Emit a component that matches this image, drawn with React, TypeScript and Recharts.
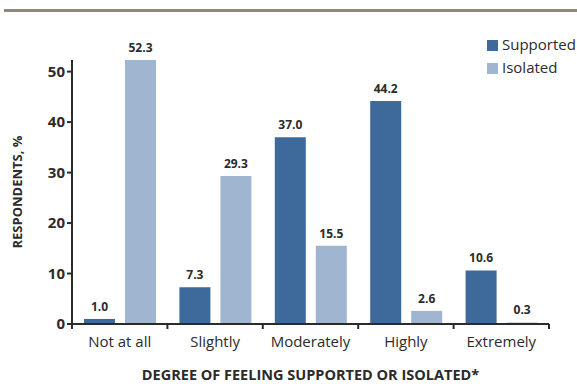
import { Bar, BarChart, LabelList, Legend, XAxis, YAxis } from "recharts";

const categories = ["Not at all", "Slightly", "Moderately", "Highly", "Extremely"];
const supported = [1.0, 7.3, 37.0, 44.2, 10.6];
const isolated = [52.3, 29.3, 15.5, 2.6, 0.3];
const yTicks = [0, 10, 20, 30, 40, 50];
const seriesOrder = ["Supported", "Isolated"];

const data = categories.map((name, i) => ({
  name,
  Supported: supported[i],
  Isolated: isolated[i],
}));

const FONT = "'Open Sans', sans-serif";
const INK = "#2b2b2b";
const DARK = "#3d6a9b";
const LIGHT = "#a0b6d0";

const CategoryTick = (props) => {
  const { x, y, payload, index, width } = props;
  const band = width / categories.length;
  const left = x - band / 2;
  const right = x + band / 2;
  return (
    <g>
      <line x1={left} y1={y - 8} x2={left} y2={y - 3} stroke={INK} strokeWidth={2} />
      {index === categories.length - 1 && (
        <line x1={right} y1={y - 8} x2={right} y2={y - 3} stroke={INK} strokeWidth={2} />
      )}
      <text x={x} y={y + 15} textAnchor="middle" fontSize={15} fill={INK} fontFamily={FONT}>
        {payload.value}
      </text>
    </g>
  );
};

const fmt = (v) => Number(v).toFixed(1);

export default function App() {
  return (
    <div style={{ position: "absolute", left: 0, top: 0, width: 577, height: 388, background: "#fff" }}>
      <div style={{ position: "absolute", left: 4, top: 9, width: 573, height: 3, background: "#8f887b" }} />
      <BarChart
        width={577}
        height={388}
        data={data}
        margin={{ top: 60, right: 28, bottom: 0, left: 30 }}
        barSize={31}
        barGap={10}
      >
        <XAxis
          dataKey="name"
          tickLine={false}
          axisLine={{ stroke: INK, strokeWidth: 2 }}
          tick={<CategoryTick />}
          height={64}
          label={{
            value: "DEGREE OF FEELING SUPPORTED OR ISOLATED*",
            position: "insideBottom",
            offset: 0,
            dy: -8,
            fontSize: 14.5,
            fontWeight: 700,
            fill: INK,
            fontFamily: FONT,
          }}
        />
        <YAxis
          domain={[0, 52.3]}
          ticks={yTicks}
          width={42}
          tickSize={5}
          tickLine={{ stroke: INK, strokeWidth: 2 }}
          axisLine={{ stroke: INK, strokeWidth: 2 }}
          tick={{ fontSize: 15, fontWeight: 700, fill: INK, fontFamily: FONT }}
          label={{
            value: "RESPONDENTS, %",
            angle: -90,
            position: "insideLeft",
            dx: -18,
            fontSize: 13,
            fontWeight: 700,
            fill: INK,
            fontFamily: FONT,
            style: { textAnchor: "middle" },
          }}
        />
        <Legend
          layout="vertical"
          align="center"
          verticalAlign="middle"
          iconType="square"
          iconSize={11}
          itemSorter={(item) => seriesOrder.indexOf(item.value)}
          wrapperStyle={{
            top: 33,
            left: 487,
            width: 100,
            whiteSpace: "nowrap",
            fontFamily: FONT,
            fontSize: 15,
            lineHeight: "23px",
            textAlign: "left",
          }}
          formatter={(value) => <span style={{ color: INK }}>{value}</span>}
        />
        <Bar dataKey="Supported" fill={DARK} isAnimationActive={false}>
          <LabelList
            dataKey="Supported"
            position="top"
            offset={8}
            formatter={fmt}
            style={{ fontSize: 12, fontWeight: 700, fill: INK, fontFamily: FONT }}
          />
        </Bar>
        <Bar dataKey="Isolated" fill={LIGHT} isAnimationActive={false}>
          <LabelList
            dataKey="Isolated"
            position="top"
            offset={8}
            formatter={fmt}
            style={{ fontSize: 12, fontWeight: 700, fill: INK, fontFamily: FONT }}
          />
        </Bar>
      </BarChart>
    </div>
  );
}
